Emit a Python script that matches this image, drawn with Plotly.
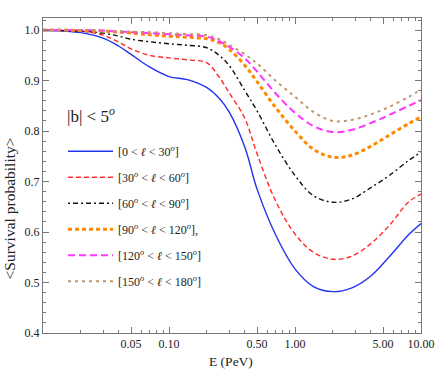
import plotly.graph_objects as go

# energy grid (PeV) and averaged survival probabilities
energy = [0.01, 0.015, 0.02, 0.03, 0.04, 0.05, 0.07, 0.1, 0.14, 0.2, 0.25, 0.3,
          0.4, 0.5, 0.7, 1.0, 1.4, 2.0, 2.8, 4.0, 5.6, 8.0, 10.0]

p_0_30 = [0.999, 0.998, 0.995, 0.984, 0.968, 0.952, 0.927, 0.908, 0.902, 0.886, 0.865, 0.838,
          0.768, 0.685, 0.595, 0.527, 0.492, 0.482, 0.489, 0.513, 0.551, 0.595, 0.617]
p_30_60 = [1.0, 0.999, 0.998, 0.990, 0.976, 0.963, 0.950, 0.945, 0.941, 0.935, 0.907, 0.876,
           0.825, 0.755, 0.662, 0.596, 0.560, 0.546, 0.552, 0.577, 0.613, 0.660, 0.675]
p_60_90 = [1.0, 0.999, 0.998, 0.994, 0.988, 0.982, 0.977, 0.973, 0.970, 0.965, 0.950, 0.930,
           0.880, 0.840, 0.772, 0.712, 0.672, 0.659, 0.665, 0.688, 0.712, 0.742, 0.758]
p_90_120 = [1.0, 1.0, 0.999, 0.998, 0.996, 0.994, 0.991, 0.988, 0.986, 0.983, 0.975, 0.962,
            0.930, 0.898, 0.847, 0.800, 0.764, 0.748, 0.752, 0.770, 0.792, 0.815, 0.828]
p_120_150 = [1.0, 1.0, 1.0, 0.999, 0.997, 0.996, 0.994, 0.992, 0.990, 0.987, 0.978, 0.967,
             0.944, 0.918, 0.875, 0.836, 0.810, 0.798, 0.802, 0.816, 0.832, 0.850, 0.861]
p_150_180 = [1.0, 1.0, 1.0, 0.999, 0.998, 0.997, 0.996, 0.994, 0.992, 0.990, 0.982, 0.971,
             0.952, 0.934, 0.900, 0.868, 0.838, 0.820, 0.822, 0.833, 0.848, 0.868, 0.882]

labels = ["[0 < <i>ℓ</i> < 30<sup><i>o</i></sup>]",
          "[30<sup><i>o</i></sup> < <i>ℓ</i> < 60<sup><i>o</i></sup>]",
          "[60<sup><i>o</i></sup> < <i>ℓ</i> < 90<sup><i>o</i></sup>]",
          "[90<sup><i>o</i></sup> < <i>ℓ</i> < 120<sup><i>o</i></sup>],",
          "[120<sup><i>o</i></sup> < <i>ℓ</i> < 150<sup><i>o</i></sup>]",
          "[150<sup><i>o</i></sup> < <i>ℓ</i> < 180<sup><i>o</i></sup>]"]

x_ticks = [0.05, 0.1, 0.5, 1, 5, 10]
x_ticktext = ["0.05", "0.10", "0.50", "1.00", "5.00", "10.00"]
x_minor = [m * d for d in [0.01, 0.1, 1] for m in range(1, 10) if m != 5 and m * d != 1 and m * d > 0.01]

serif = "Liberation Serif, Times New Roman, Times, serif"
ink = "#222222"

styles = [
    dict(color="#2233ee", width=1.4, dash="solid"),
    dict(color="#ff2a2a", width=1.4, dash="5px,3px"),
    dict(color="#111111", width=1.4, dash="2px,3px,5px,3px"),
    dict(color="#ff8a00", width=3, dash="4px,3px"),
    dict(color="#ff33ff", width=2, dash="7px,4px"),
    dict(color="#c0956a", width=2, dash="3px,4px"),
]

series = [p_0_30, p_30_60, p_60_90, p_90_120, p_120_150, p_150_180]

fig = go.Figure()
for i, (ys, lab, st) in enumerate(zip(series, labels, styles)):
    fig.add_trace(go.Scatter(x=energy, y=ys, mode="lines", line_shape="spline",
                             line=st, name=lab, legendgroup=str(i)))

axis_common = dict(
    showline=True, linecolor="#777777", linewidth=1, mirror="allticks",
    ticks="inside", tickcolor="#777777", ticklen=6, tickwidth=1,
    showgrid=False, zeroline=False, automargin=False,
    tickfont=dict(family=serif, size=12, color=ink),
)

fig.update_xaxes(type="log", range=[-2, 1], tickvals=x_ticks, ticktext=x_ticktext,
                 minor=dict(tickvals=x_minor, ticks="inside", ticklen=3, tickcolor="#777777"),
                 **axis_common)
fig.update_yaxes(range=[0.4, 1.024], tickvals=[0.4, 0.5, 0.6, 0.7, 0.8, 0.9, 1.0],
                 ticktext=["0.4", "0.5", "0.6", "0.7", "0.8", "0.9", "1.0"],
                 minor=dict(dtick=0.02, ticks="inside", ticklen=3, tickcolor="#777777"),
                 **axis_common)

# axis titles, placed as in the original
fig.add_annotation(text="E (PeV)", xref="paper", yref="paper", x=0.497, y=-0.092,
                   xanchor="center", yanchor="middle", showarrow=False,
                   font=dict(family=serif, size=13.5, color=ink))
fig.add_annotation(text="&lt;Survival probability&gt;", xref="paper", yref="paper",
                   x=-0.0886, y=0.394, textangle=-90, xanchor="center", yanchor="middle",
                   showarrow=False, font=dict(family=serif, size=15.5, color=ink))

fig.add_annotation(text="|b| < 5<sup><i>o</i></sup>", xref="paper", yref="paper",
                   x=0.058, y=0.693, xanchor="left", yanchor="middle", showarrow=False,
                   font=dict(family=serif, size=17, color=ink))

fig.update_layout(
    width=436, height=376,
    margin=dict(l=43, r=15, t=18, b=43),
    paper_bgcolor="white", plot_bgcolor="white",
    showlegend=True,
    legend=dict(x=0.053, y=0.623, xanchor="left", yanchor="top", bgcolor="rgba(0,0,0,0)",
                font=dict(family=serif, size=12, color=ink),
                itemwidth=45, tracegroupgap=7, traceorder="grouped"),
)

# drop the default page margin so the figure fills the window exactly; no modebar
fig.write_html("out.html", config={"displayModeBar": False},
               post_script="document.body.style.margin = '0';")
